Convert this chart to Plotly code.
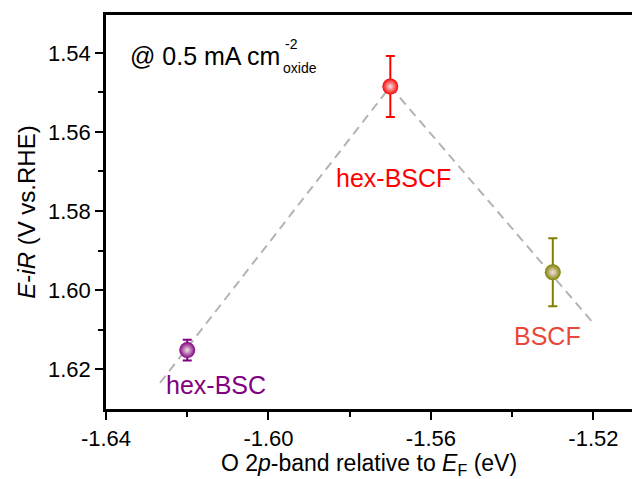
import plotly.graph_objects as go

# Samples: O 2p-band centre relative to E_F (eV) and E-iR at 0.5 mA cm^-2_oxide
samples = ["hex-BSC", "hex-BSCF", "BSCF"]
o2p_band = [-1.620, -1.570, -1.530]
potential = [1.6152, 1.5485, 1.5955]
potential_err = [0.0026, 0.0077, 0.0086]
marker_colors = ["#800080", "#FF0000", "#808000"]
label_colors = ["#800080", "#FF0000", "#E8483A"]
label_x = [-1.6129, -1.5693, -1.5312]
label_y = [1.6240, 1.5716, 1.6116]

# Volcano guide line (dashed)
guide_x = [-1.6267, -1.570, -1.520]
guide_y = [1.6235, 1.5485, 1.6084]

x_ticks = [-1.64, -1.60, -1.56, -1.52]
y_ticks = [1.54, 1.56, 1.58, 1.60, 1.62]

FONT = "Arial, Liberation Sans, sans-serif"

fig = go.Figure()

fig.add_trace(go.Scatter(
    x=guide_x, y=guide_y, mode="lines",
    line=dict(color="#B4B4B4", width=2, dash="9px,6px"),
    hoverinfo="skip", showlegend=False,
))

for i, name in enumerate(samples):
    fig.add_trace(go.Scatter(
        x=[o2p_band[i]], y=[potential[i]], mode="markers", name=name,
        error_y=dict(type="data", array=[potential_err[i]], visible=True,
                     color=marker_colors[i], thickness=2, width=4.5),
        marker=dict(size=16, color=marker_colors[i],
                    gradient=dict(type="radial", color="#F4E4E4"),
                    line=dict(width=0)),
        showlegend=False,
    ))
    fig.add_annotation(
        x=label_x[i], y=label_y[i], text=name, showarrow=False,
        font=dict(family=FONT, size=25, color=label_colors[i]),
        xanchor="center", yanchor="middle",
    )

# Current-density condition, with stacked super/subscript
fig.add_annotation(x=0.0418, y=0.896, xref="paper", yref="paper",
                   text="@ 0.5 mA cm", showarrow=False, xanchor="left",
                   yanchor="middle", font=dict(family=FONT, size=25, color="black"))
fig.add_annotation(x=0.3365, y=0.926, xref="paper", yref="paper",
                   text="-2", showarrow=False, xanchor="left",
                   yanchor="middle", font=dict(family=FONT, size=14, color="black"))
fig.add_annotation(x=0.3325, y=0.8655, xref="paper", yref="paper",
                   text="oxide", showarrow=False, xanchor="left",
                   yanchor="middle", font=dict(family=FONT, size=14, color="black"))

axis_common = dict(
    showgrid=False, zeroline=False, showline=True, linecolor="black",
    linewidth=2.5, ticks="outside", ticklen=8, tickwidth=2, tickcolor="black",
    tickfont=dict(family=FONT, size=22, color="black"),
    minor=dict(ticks="outside", ticklen=5, tickwidth=2, tickcolor="black"),
)

fig.update_xaxes(
    **axis_common, range=[-1.64, -1.5105], tickvals=x_ticks,
    ticktext=[f"{v:.2f}" for v in x_ticks], mirror=True,
    minor_tickvals=[-1.62, -1.58, -1.54],
    title=dict(text="O 2<i>p</i>-band relative to <i>E</i><sub>F</sub> (eV)",
               font=dict(family=FONT, size=23, color="black"), standoff=5),
)
fig.update_yaxes(
    **axis_common, range=[1.6301, 1.5304], tickvals=y_ticks,
    ticktext=[f"{v:.2f}" for v in y_ticks],
    minor_tickvals=[1.55, 1.57, 1.59, 1.61],
    title=dict(text="<i>E</i>-<i>iR</i> (V vs.RHE)",
               font=dict(family=FONT, size=24, color="black"), standoff=6),
)

fig.update_layout(
    width=632, height=479,
    margin=dict(l=106, r=0, t=15, b=70),
    paper_bgcolor="white", plot_bgcolor="white",
)

fig.write_html("out.html")
